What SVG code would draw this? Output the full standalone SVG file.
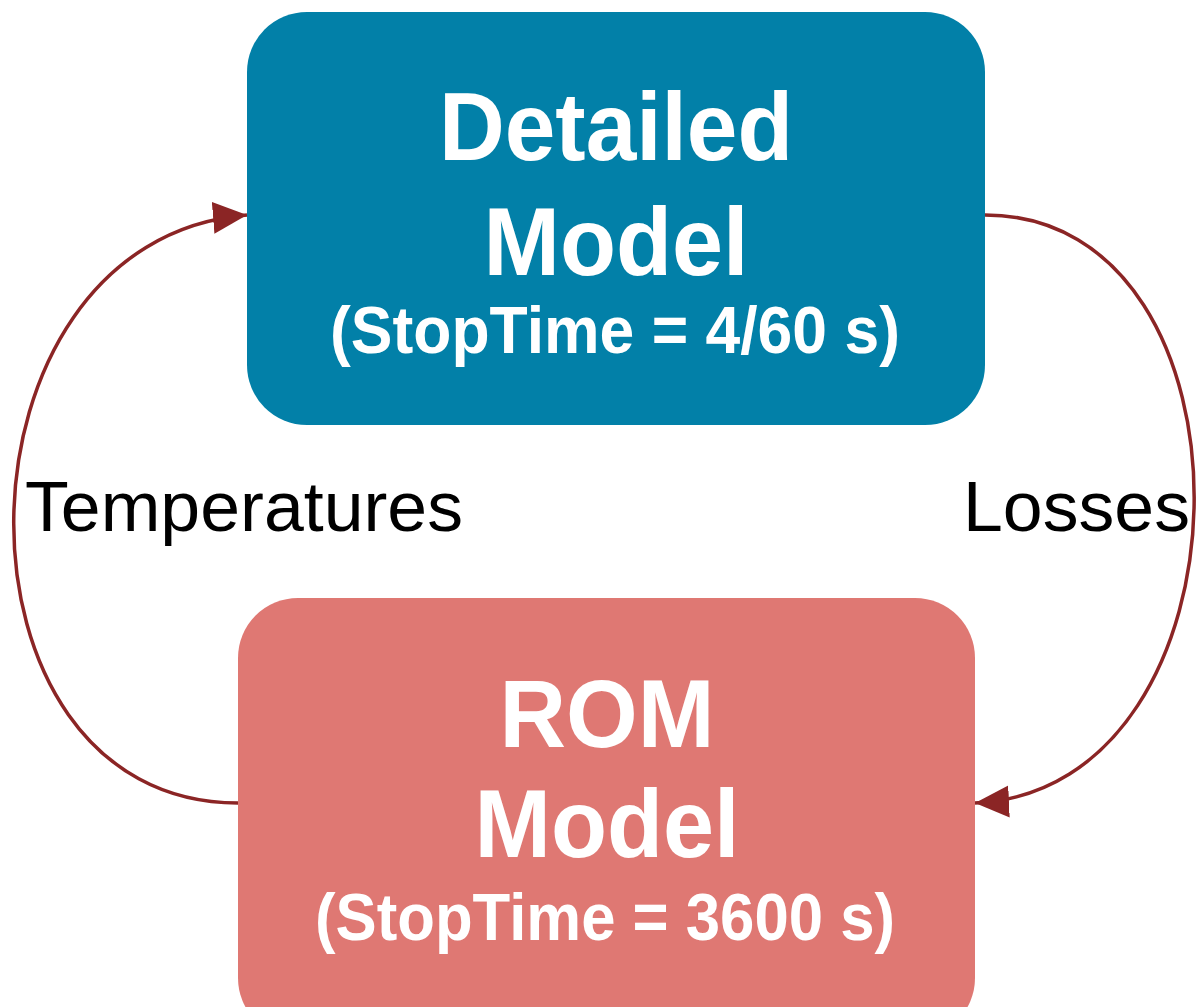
<svg xmlns="http://www.w3.org/2000/svg" width="1200" height="1007" viewBox="0 0 1200 1007">
<style>
.box-title{font-family:"Liberation Sans",Arial,sans-serif;font-weight:bold;fill:#ffffff;text-anchor:middle}
.big{font-size:96px}
.sub{font-size:66px}
.lbl{font-family:"Liberation Sans",Arial,sans-serif;font-size:71px;fill:#000000}
.conn{fill:none;stroke:#8b2525;stroke-width:3.5}
</style>
<defs>
<marker id="arrow" markerUnits="userSpaceOnUse" markerWidth="36" markerHeight="34" refX="34" refY="17" orient="auto">
<path d="M0,1 L34,17 L0,33 z" fill="#8b2525"/>
</marker>
</defs>
<rect width="1200" height="1007" fill="#ffffff"/>
<g id="connectors">
<path class="conn" d="M238,803 C -65,803 -60,240 247,215" marker-end="url(#arrow)"/>
<path class="conn" d="M985,215 C 1269,215 1262,790 975,803" marker-end="url(#arrow)"/>
</g>
<g id="node-detailed">
<rect x="247" y="12" width="738" height="413" rx="60" ry="60" fill="#0280a8"/>
<text class="box-title big" x="616" y="160" textLength="354" lengthAdjust="spacingAndGlyphs">Detailed</text>
<text class="box-title big" x="616" y="275" textLength="265" lengthAdjust="spacingAndGlyphs">Model</text>
<text class="box-title sub" x="615" y="353" textLength="570" lengthAdjust="spacingAndGlyphs">(StopTime = 4/60 s)</text>
</g>
<g id="node-rom">
<rect x="238" y="598" width="737" height="440" rx="60" ry="60" fill="#df7873"/>
<text class="box-title big" x="607" y="747" textLength="215" lengthAdjust="spacingAndGlyphs">ROM</text>
<text class="box-title big" x="607" y="857" textLength="265" lengthAdjust="spacingAndGlyphs">Model</text>
<text class="box-title sub" x="605" y="940" textLength="580" lengthAdjust="spacingAndGlyphs">(StopTime = 3600 s)</text>
</g>
<g id="labels">
<text class="lbl" x="25" y="531" textLength="438" lengthAdjust="spacingAndGlyphs">Temperatures</text>
<text class="lbl" x="963" y="531" textLength="227" lengthAdjust="spacingAndGlyphs">Losses</text>
</g>
</svg>
